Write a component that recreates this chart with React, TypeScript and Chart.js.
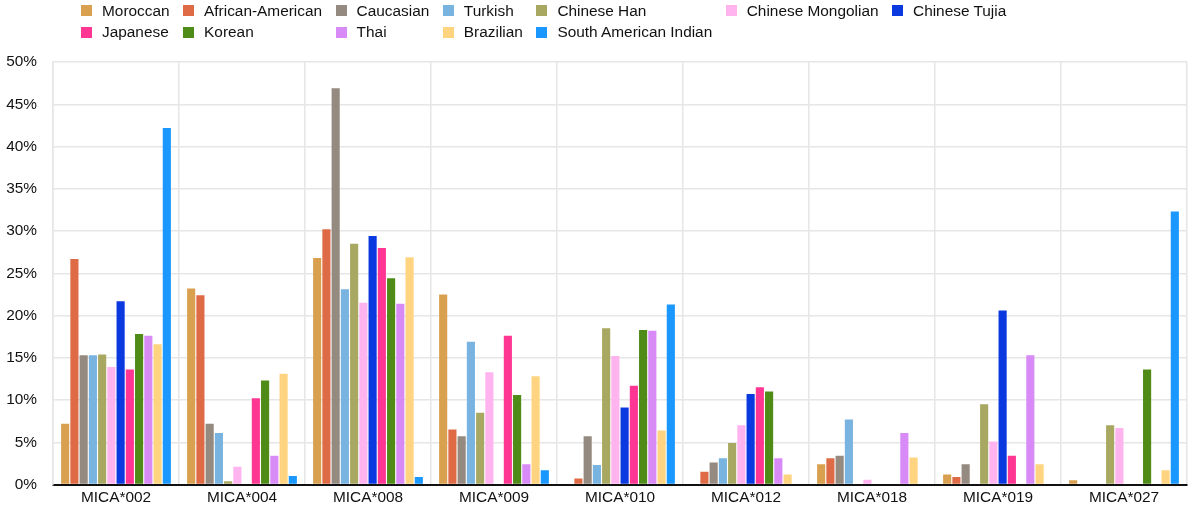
import { useEffect, useRef } from 'react';
import { Chart, registerables } from 'chart.js';

Chart.register(...registerables);

// alleles on the x axis
const categories = [
  'MICA*002',
  'MICA*004',
  'MICA*008',
  'MICA*009',
  'MICA*010',
  'MICA*012',
  'MICA*018',
  'MICA*019',
  'MICA*027',
];

// allele frequency (%) per population, same order as categories
const moroccan = [7.2, 23.2, 26.8, 22.5, 0, 0, 2.4, 1.2, 0.5];
const africanAmerican = [26.7, 22.4, 30.2, 6.5, 0.7, 1.5, 3.1, 0.9, 0];
const caucasian = [15.3, 7.2, 46.9, 5.7, 5.7, 2.6, 3.4, 2.4, 0];
const turkish = [15.3, 6.1, 23.1, 16.9, 2.3, 3.1, 7.7, 0, 0];
const chineseHan = [15.4, 0.4, 28.5, 8.5, 18.5, 4.9, 0, 9.5, 7.0];
const chineseMongolian = [13.9, 2.1, 21.5, 13.3, 15.2, 7.0, 0.55, 5.1, 6.7];
const chineseTujia = [21.7, 0, 29.4, 0, 9.1, 10.7, 0, 20.6, 0];
const japanese = [13.6, 10.2, 28.0, 17.6, 11.7, 11.5, 0, 3.4, 0];
const korean = [17.8, 12.3, 24.4, 10.6, 18.3, 11.0, 0, 0, 13.6];
const thai = [17.6, 3.4, 21.4, 2.4, 18.2, 3.1, 6.1, 15.3, 0];
const brazilian = [16.6, 13.1, 26.9, 12.8, 6.4, 1.2, 3.2, 2.4, 1.7];
const southAmericanIndian = [42.2, 1.0, 0.9, 1.7, 21.3, 0, 0, 0, 32.3];

const seriesNames = [
  'Moroccan',
  'African-American',
  'Caucasian',
  'Turkish',
  'Chinese Han',
  'Chinese Mongolian',
  'Chinese Tujia',
  'Japanese',
  'Korean',
  'Thai',
  'Brazilian',
  'South American Indian',
];
const seriesValues = [
  moroccan,
  africanAmerican,
  caucasian,
  turkish,
  chineseHan,
  chineseMongolian,
  chineseTujia,
  japanese,
  korean,
  thai,
  brazilian,
  southAmericanIndian,
];

const yMax = 50;
const yStep = 5;

const colors = [
  '#d9a04f',
  '#df6b46',
  '#958a80',
  '#79b4e0',
  '#a8a862',
  '#ffb4f0',
  '#0b39e0',
  '#ff3692',
  '#4e8b17',
  '#d88af7',
  '#ffd480',
  '#1a98ff',
];

// legend is laid out in columns, 7 per row
const legendCols = 7;

const FONT = '"Liberation Sans", Arial, Helvetica, sans-serif';
const FONT_SIZE = 15.4;

const App = () => {
  const canvasRef = useRef<HTMLCanvasElement | null>(null);

  useEffect(() => {
    document.body.style.margin = '0';
    const canvas = canvasRef.current;
    if (!canvas) return;
    const chart = new Chart(canvas, {
      type: 'bar',
      data: {
        labels: categories,
        datasets: seriesNames.map((name, i) => ({
          label: name,
          data: seriesValues[i],
          backgroundColor: colors[i],
          borderWidth: 0,
          categoryPercentage: 0.88,
          barPercentage: 0.88,
        })),
      },
      options: {
        animation: false,
        responsive: false,
        maintainAspectRatio: false,
        layout: { padding: { top: 62, left: 6, right: 5, bottom: 0 } },
        plugins: {
          legend: { display: false },
          tooltip: { enabled: false },
        },
        scales: {
          x: {
            grid: { color: '#e6e6e6', lineWidth: 1.5, drawTicks: false },
            border: { color: '#111', width: 2 },
            ticks: {
              color: '#111',
              font: { family: FONT, size: FONT_SIZE },
              padding: 4,
            },
          },
          y: {
            min: 0,
            max: yMax,
            grid: { color: '#e6e6e6', lineWidth: 1.5, drawTicks: false },
            border: { color: '#e6e6e6', width: 1.5 },
            ticks: {
              stepSize: yStep,
              color: '#111',
              font: { family: FONT, size: FONT_SIZE },
              padding: 16,
              callback: (v: any) => v + '%',
            },
            // chart.js counts tick padding twice; keep the axis as narrow as the reference
            afterFit: (scale: any) => {
              scale.width = 47;
            },
          },
        },
      },
    });
    return () => chart.destroy();
  }, []);

  return (
    <div style={{ position: 'relative', width: 1192, height: 511, fontFamily: FONT }}>
      <div
        style={{
          position: 'absolute',
          top: 0,
          left: 81,
          display: 'grid',
          gridTemplateColumns: `repeat(${legendCols}, auto)`,
          gridAutoRows: '21.5px',
          columnGap: 13.5,
          fontSize: FONT_SIZE,
          color: '#111',
        }}
      >
        {seriesNames.map((name, i) => (
          <div key={name} style={{ display: 'flex', alignItems: 'center', whiteSpace: 'nowrap' }}>
            <span
              style={{
                display: 'inline-block',
                width: 11,
                height: 11,
                marginRight: 10,
                background: colors[i],
              }}
            />
            {name}
          </div>
        ))}
      </div>
      <canvas ref={canvasRef} width={1192} height={511} style={{ display: 'block' }} />
    </div>
  );
};

export default App;
